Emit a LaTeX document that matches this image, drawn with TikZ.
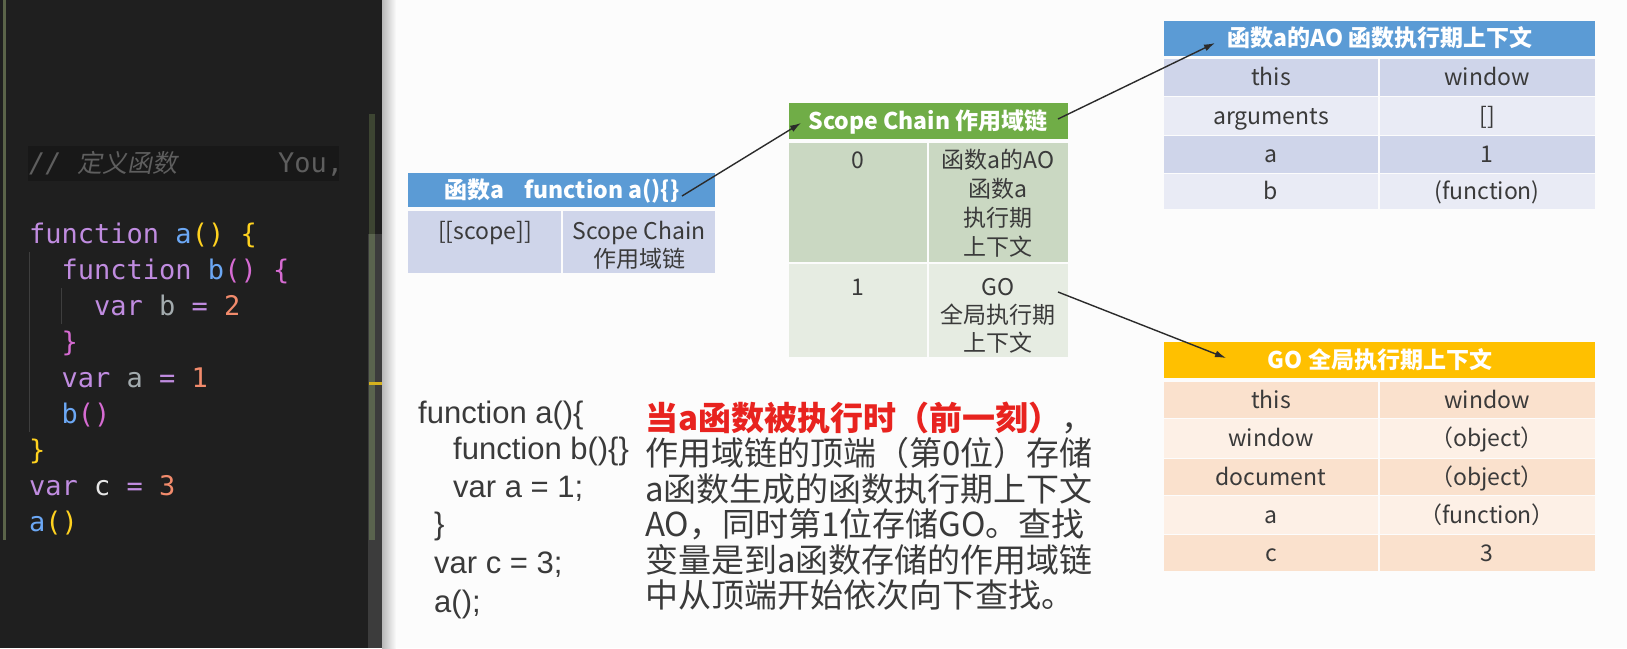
\documentclass[tikz,border=0pt]{standalone}
\usepackage{fontspec}
\usetikzlibrary{arrows.meta}
\newfontfamily\cjk{Noto Sans CJK SC}
\newfontfamily\cjkit[FakeSlant=0.2]{Noto Sans CJK SC}
\newfontfamily\mono{DejaVu Sans Mono}
\newfontfamily\arialf{Liberation Sans}
\definecolor{codebg}{HTML}{1F1F1F}
\definecolor{cmtbg}{HTML}{181818}
\definecolor{cmt}{HTML}{5E5E5E}
\definecolor{kw}{HTML}{C08CE0}
\definecolor{fn}{HTML}{6CA8F5}
\definecolor{yb}{HTML}{FFD21F}
\definecolor{mb}{HTML}{D66BD2}
\definecolor{idg}{HTML}{A3ABAE}
\definecolor{num}{HTML}{F28B6C}
\definecolor{wht}{HTML}{E6E6E6}
\definecolor{guide}{HTML}{3E3E3E}
\definecolor{bar}{HTML}{5B6449}
\definecolor{scroll}{HTML}{3C3C3C}
\definecolor{thumbA}{HTML}{3D4532}
\definecolor{thumbB}{HTML}{5A644E}
\definecolor{ymark}{HTML}{D6B21E}
\definecolor{bgR}{HTML}{FCFCFC}
\definecolor{shadow}{HTML}{B8B8B8}
\definecolor{blueH}{HTML}{5B9BD5}
\definecolor{blueD}{HTML}{CFD5EA}
\definecolor{blueL}{HTML}{E9EBF5}
\definecolor{greenH}{HTML}{70AD47}
\definecolor{greenD}{HTML}{CAD8C2}
\definecolor{greenL}{HTML}{E6ECE2}
\definecolor{goldH}{HTML}{FFC000}
\definecolor{peachD}{HTML}{FAE1CD}
\definecolor{peachL}{HTML}{FDF0E6}
\definecolor{txt}{HTML}{3A3A3A}
\definecolor{redT}{HTML}{E8231F}
\definecolor{arrowc}{HTML}{2B2B2B}
\begin{document}
\begin{tikzpicture}[x=1pt,y=-1pt,
  conn/.style={draw=arrowc, line width=1.4pt, -{Latex[length=11pt,width=7pt]}},
  hdr/.style={font=\cjk\bfseries\fontsize{23}{23}\selectfont, text=white, inner sep=0pt, anchor=base},
  cell/.style={font=\cjk\fontsize{23}{23}\selectfont, text=txt, inner sep=0pt, anchor=base},
  code/.style={font=\mono\fontsize{27}{27}\selectfont, inner sep=0pt, anchor=base west},
  snip/.style={font=\arialf\fontsize{31}{31}\selectfont, text=txt, inner sep=0pt, anchor=base west},
  para/.style={font=\cjk\fontsize{33}{33}\selectfont, text=txt, inner sep=0pt, anchor=base west},
]
\useasboundingbox (0,0) rectangle (1627,648);
% backgrounds
\fill[bgR] (382,0) rectangle (1627,648);
\shade[left color=shadow, right color=bgR] (382,0) rectangle (396,648);
\fill[codebg] (0,0) rectangle (382,648);
\fill[scroll] (368,234) rectangle (382,648);
\fill[thumbA] (369,114) rectangle (375,234);
\fill[thumbB] (369,234) rectangle (375,540);
\fill[ymark] (369,382) rectangle (382,384.5);
\fill[bar] (3,0) rectangle (6,540);
\fill[cmtbg] (28,146) rectangle (339,181);
\draw[guide, line width=1pt] (29.5,252) -- (29.5,432);
\draw[guide, line width=1pt] (61.5,288) -- (61.5,324);
% editor code
\node[code, text=cmt] (cm1) at (29,172) {\itshape // {\cjkit\fontsize{25}{25}\selectfont 定义函数}};
\node[code, text=cmt] (cm2) at (278,172) {You,};
\node[code] (c1) at (29,243) {\textcolor{kw}{function} \textcolor{fn}{a}\textcolor{yb}{() \{}};
\node[code] (c2) at (61.5,279) {\textcolor{kw}{function} \textcolor{fn}{b}\textcolor{mb}{() \{}};
\node[code] (c3) at (94,315) {\textcolor{kw}{var} \textcolor{idg}{b} \textcolor{kw}{=} \textcolor{num}{2}};
\node[code] (c4) at (61.5,351) {\textcolor{mb}{\}}};
\node[code] (c5) at (61.5,387) {\textcolor{kw}{var} \textcolor{idg}{a} \textcolor{kw}{=} \textcolor{num}{1}};
\node[code] (c6) at (61.5,423) {\textcolor{fn}{b}\textcolor{mb}{()}};
\node[code] (c7) at (29,459) {\textcolor{yb}{\}}};
\node[code] (c8) at (29,495) {\textcolor{kw}{var} \textcolor{wht}{c} \textcolor{kw}{=} \textcolor{num}{3}};
\node[code] (c9) at (29,531) {\textcolor{fn}{a}\textcolor{yb}{()}};
% table 1: function a
\fill[blueH] (408,173) rectangle (715,207);
\fill[blueD] (408,211) rectangle (561,273);
\fill[blueD] (563,211) rectangle (715,273);
\node[hdr] (t1h) at (562,198) {函数a\hspace{20pt}function a()\{\}};
\node[cell] (t1a) at (485,239) {[[scope]]};
\node[cell] (t1b) at (639,239) {Scope Chain};
\node[cell] (t1c) at (639,267) {作用域链};
% table 2: scope chain
\fill[greenH] (789,103) rectangle (1068,139);
\fill[greenD] (789,143) rectangle (927,262);
\fill[greenD] (929,143) rectangle (1068,262);
\fill[greenL] (789,264) rectangle (927,357);
\fill[greenL] (929,264) rectangle (1068,357);
\node[hdr] (t2h) at (928,129) {Scope Chain 作用域链};
\node[cell] (t2a) at (858,168) {0};
\node[cell] (t2b) at (998,168) {函数a的AO};
\node[cell] (t2c) at (998,197) {函数a};
\node[cell] (t2d) at (998,226) {执行期};
\node[cell] (t2e) at (998,255) {上下文};
\node[cell] (t2f) at (858,295) {1};
\node[cell] (t2g) at (998,295) {GO};
\node[cell] (t2i) at (998,323) {全局执行期};
\node[cell] (t2j) at (998,351) {上下文};
% table 3: AO
\fill[blueH] (1164,21) rectangle (1595,56);
\fill[blueD] (1164,59) rectangle (1378,96);
\fill[blueD] (1380,59) rectangle (1595,96);
\fill[blueL] (1164,97) rectangle (1378,135);
\fill[blueL] (1380,97) rectangle (1595,135);
\fill[blueD] (1164,136) rectangle (1378,173);
\fill[blueD] (1380,136) rectangle (1595,173);
\fill[blueL] (1164,174) rectangle (1378,209);
\fill[blueL] (1380,174) rectangle (1595,209);
\node[hdr] (t3h) at (1380,46) {函数a的AO 函数执行期上下文};
\node[cell] (t3a) at (1271,85.5) {this};
\node[cell] (t3b) at (1487,85.5) {window};
\node[cell] (t3c) at (1271,124) {arguments};
\node[cell] (t3d) at (1487,124) {[]};
\node[cell] (t3e) at (1271,162.5) {a};
\node[cell] (t3f) at (1487,162.5) {1};
\node[cell] (t3g) at (1271,199.5) {b};
\node[cell] (t3i) at (1487,199.5) {(function)};
% table 4: GO
\fill[goldH] (1164,342) rectangle (1595,378);
\fill[peachD] (1164,382) rectangle (1378,418);
\fill[peachD] (1380,382) rectangle (1595,418);
\fill[peachL] (1164,419) rectangle (1378,458);
\fill[peachL] (1380,419) rectangle (1595,458);
\fill[peachD] (1164,459) rectangle (1378,495);
\fill[peachD] (1380,459) rectangle (1595,495);
\fill[peachL] (1164,496) rectangle (1378,534);
\fill[peachL] (1380,496) rectangle (1595,534);
\fill[peachD] (1164,535) rectangle (1378,571);
\fill[peachD] (1380,535) rectangle (1595,571);
\node[hdr] (t4h) at (1380,368) {GO 全局执行期上下文};
\node[cell] (t4a) at (1271,408) {this};
\node[cell] (t4b) at (1487,408) {window};
\node[cell] (t4c) at (1271,446.5) {window};
\node[cell] (t4d) at (1487,446.5) {（object）};
\node[cell] (t4e) at (1271,485) {document};
\node[cell] (t4f) at (1487,485) {（object）};
\node[cell] (t4g) at (1271,523) {a};
\node[cell] (t4i) at (1487,523) {（function）};
\node[cell] (t4j) at (1271,561) {c};
\node[cell] (t4k) at (1487,561) {3};
% connectors
\coordinate (s1) at (682,196);
\coordinate (e1) at (801,123);
\coordinate (s2) at (1058,119);
\coordinate (e2) at (1215,43);
\coordinate (s3) at (1058,292);
\coordinate (e3) at (1226,358);
\draw[conn] (s1) -- (e1);
\draw[conn] (s2) -- (e2);
\draw[conn] (s3) -- (e3);
% snippet
\node[snip] (p1) at (418,423) {function a()\{};
\node[snip] (p2) at (453,459) {function b()\{\}};
\node[snip] (p3) at (453,497) {var a = 1;};
\node[snip] (p4) at (434,534) {\}};
\node[snip] (p5) at (434,573) {var c = 3;};
\node[snip] (p6) at (434,612) {a();};
% paragraph
\node[para] (q1) at (645,430) {\textcolor{redT}{\bfseries 当a函数被执行时（前一刻）}，};
\node[para] (q2) at (645,465.5) {作用域链的顶端（第0位）存储};
\node[para] (q3) at (645,501) {a函数生成的函数执行期上下文};
\node[para] (q4) at (645,536.5) {AO，同时第1位存储GO。查找};
\node[para] (q5) at (645,572) {变量是到a函数存储的作用域链};
\node[para] (q6) at (645,607.5) {中从顶端开始依次向下查找。};
\end{tikzpicture}
\end{document}
